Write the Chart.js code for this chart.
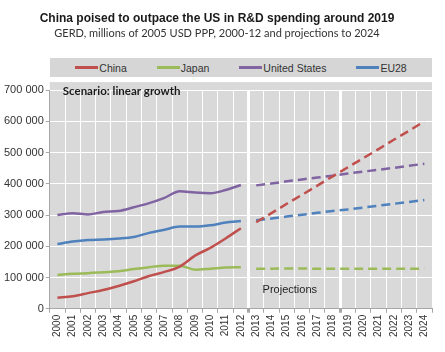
<!DOCTYPE html>
<html>
<head>
<meta charset="utf-8">
<script src="https://cdn.jsdelivr.net/npm/chart.js@4.4.0/dist/chart.umd.min.js"></script>
<style>
    body { margin: 0; background: #fff; }
    #wrap { position: relative; width: 445px; height: 352px; }
    #legend {
        position: absolute; left: 50px; top: 58px; width: 382px; height: 19px;
        background: #d6d6d6; display: flex; justify-content: center; align-items: center;
        gap: 30px; font: 10.5px "Liberation Sans", Arial, sans-serif; color: #333;
    }
    #legend .item { display: flex; align-items: center; }
    #legend .swatch { width: 23px; height: 2.5px; margin-right: 1px; }
</style>
</head>
<body>
<div id="wrap">
    <canvas id="chart" width="445" height="352"></canvas>
    <div id="legend"></div>
</div>
<script>
// Categories
const years = ['2000', '2001', '2002', '2003', '2004', '2005', '2006', '2007', '2008', '2009', '2010', '2011', '2012',
    '2013', '2014', '2015', '2016', '2017', '2018', '2019', '2020', '2021', '2022', '2023', '2024'];

// Observed GERD 2000-2012 (millions of 2005 USD PPP)
const chinaHist = [35000, 40000, 50000, 60000, 73000, 88000, 105000, 118000, 135000, 170000, 195000, 225000, 258000];
const japanHist = [108000, 112000, 114000, 117000, 120000, 127000, 133000, 138000, 138000, 125000, 128000, 132000, 133000];
const usHist = [300000, 306000, 302000, 310000, 313000, 325000, 338000, 355000, 376000, 372000, 370000, 380000, 396000];
const eu28Hist = [207000, 215000, 220000, 222000, 225000, 230000, 243000, 253000, 263000, 263000, 267000, 276000, 281000];

// Projections 2013-2024
const chinaProj = [277000, 306000, 336000, 365000, 394000, 424000, 453000, 482000, 511000, 541000, 570000, 600000];
const japanProj = [128000, 128000, 129000, 129000, 128000, 128000, 128000, 128000, 128000, 128000, 128000, 128000];
const usProj = [395000, 401000, 408000, 414000, 420000, 426000, 433000, 439000, 445000, 451000, 458000, 464000];
const eu28Proj = [283000, 289000, 295000, 301000, 307000, 313000, 318000, 324000, 330000, 336000, 342000, 348000];

const colors = {
    China: '#c0504d',
    Japan: '#9bbb59',
    'United States': '#8064a2',
    EU28: '#4f81bd'
};

const histPad = new Array(years.length - chinaHist.length).fill(null);
const projPad = new Array(years.length - chinaProj.length).fill(null);

function histSet(label, values) {
    return {
        label: label,
        data: values.concat(histPad),
        borderColor: colors[label],
        borderWidth: 2.5,
        pointRadius: 0,
        cubicInterpolationMode: 'monotone',
        fill: false
    };
}

function projSet(label, values) {
    return {
        label: label + ' (projection)',
        data: projPad.concat(values),
        borderColor: colors[label],
        borderWidth: 2.5,
        borderDash: [9, 5],
        pointRadius: 0,
        tension: 0,
        fill: false
    };
}

function formatThousands(v) {
    return String(v).replace(/\B(?=(\d{3})+(?!\d))/g, ' ');
}

// Gray plot background
const plotBackground = {
    id: 'plotBackground',
    beforeDraw(chart) {
        const { ctx, chartArea } = chart;
        ctx.save();
        ctx.fillStyle = '#d9d9d9';
        ctx.fillRect(chartArea.left, chartArea.top - 8, chartArea.right - chartArea.left, chartArea.bottom - chartArea.top + 8);
        ctx.restore();
    }
};

// Text notes inside the plot
const notes = {
    id: 'notes',
    afterDatasetsDraw(chart) {
        const { ctx, chartArea, scales } = chart;
        ctx.save();
        ctx.fillStyle = '#1a1a1a';
        ctx.font = 'bold 11.5px Lato, "Liberation Sans", sans-serif';
        ctx.textBaseline = 'middle';
        ctx.textAlign = 'left';
        ctx.fillText('Scenario: linear growth', chartArea.left + 13, chartArea.top + 1);

        ctx.font = '11px "Liberation Sans", Arial, sans-serif';
        ctx.fillStyle = '#222';
        ctx.textAlign = 'center';
        ctx.fillText('Projections', scales.x.getPixelForValue(15.2), scales.y.getPixelForValue(60000));
        ctx.restore();
    }
};

const chart = new Chart(document.getElementById('chart'), {
    type: 'line',
    data: {
        labels: years,
        datasets: [
            histSet('China', chinaHist),
            histSet('Japan', japanHist),
            histSet('United States', usHist),
            histSet('EU28', eu28Hist),
            projSet('China', chinaProj),
            projSet('Japan', japanProj),
            projSet('United States', usProj),
            projSet('EU28', eu28Proj)
        ]
    },
    options: {
        responsive: false,
        animation: false,
        layout: { padding: { left: 2, right: 13, top: 0, bottom: 13 } },
        plugins: {
            legend: { display: false },
            tooltip: { enabled: false },
            title: {
                display: true,
                text: 'China poised to outpace the US in R&D spending around 2019',
                color: '#1a1a1a',
                font: { family: '"Liberation Sans", Arial, sans-serif', size: 12, weight: 'bold' },
                padding: { top: 11, bottom: 1 }
            },
            subtitle: {
                display: true,
                text: 'GERD, millions of 2005 USD PPP, 2000-12 and projections to 2024',
                color: '#333',
                font: { family: 'Lato, "Liberation Sans", sans-serif', size: 11 },
                padding: { top: 0, bottom: 50.5 }
            }
        },
        scales: {
            x: {
                offset: true,
                grid: {
                    offset: true,
                    color: '#ffffff',
                    tickColor: '#a6a6a6',
                    tickLength: 4,
                    lineWidth: (ctx) => (ctx.index === 13 || ctx.index === 19) ? 3 : 1
                },
                border: { display: true, color: '#a6a6a6' },
                ticks: {
                    autoSkip: false,
                    maxRotation: 90,
                    minRotation: 90,
                    padding: 2,
                    color: '#333',
                    font: { family: '"Liberation Sans", Arial, sans-serif', size: 10 }
                }
            },
            y: {
                min: 0,
                max: 700000,
                grid: {
                    color: '#ffffff',
                    tickColor: '#a6a6a6',
                    tickLength: 4
                },
                border: { display: true, color: '#a6a6a6' },
                ticks: {
                    stepSize: 100000,
                    padding: 2,
                    color: '#333',
                    font: { family: '"Liberation Sans", Arial, sans-serif', size: 11 },
                    callback: (v) => formatThousands(v)
                }
            }
        }
    },
    plugins: [plotBackground, notes]
});

// HTML legend from the observed series
const legendEl = document.getElementById('legend');
chart.data.datasets.slice(0, 4).forEach((ds) => {
    const item = document.createElement('div');
    item.className = 'item';
    item.innerHTML = `<span class="swatch" style="background:${ds.borderColor}"></span><span>${ds.label}</span>`;
    legendEl.appendChild(item);
});
</script>
</body>
</html>
